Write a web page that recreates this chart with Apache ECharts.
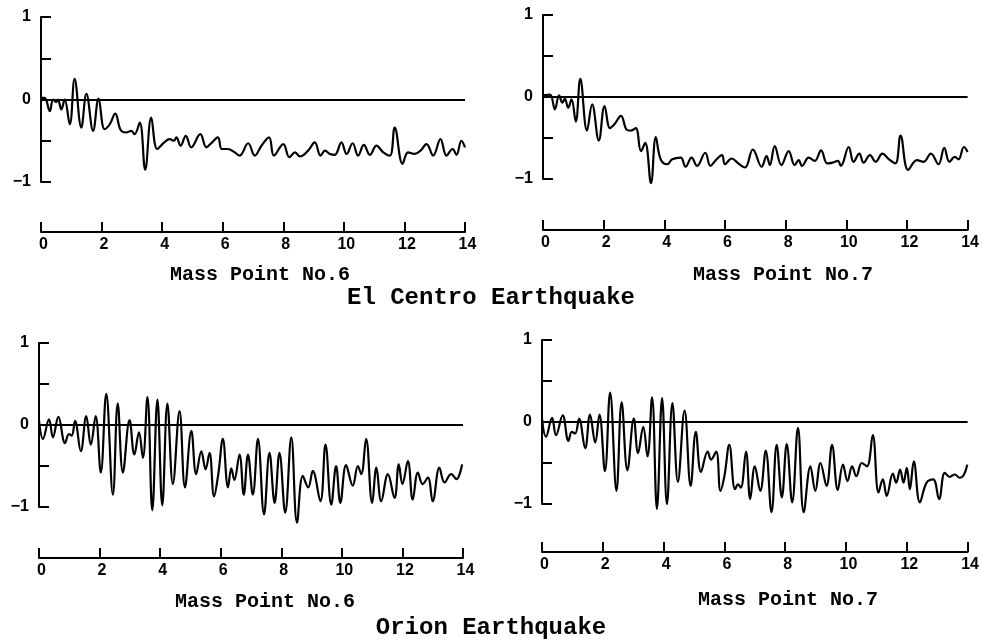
<!DOCTYPE html>
<html>
<head>
<meta charset="utf-8">
<script src="https://cdn.jsdelivr.net/npm/echarts@6/dist/echarts.min.js"></script>
<style>
  html, body {margin: 0; padding: 0; background: #fff;}
  #chart {width: 982px; height: 644px;}
</style>
</head>
<body>
<div id="chart"></div>
<script>
// El Centro, mass point 6
var elc6T = [0, 0.12, 0.29, 0.40, 0.50, 0.56, 0.67, 0.78, 0.95, 1.11, 1.33, 1.50, 1.72, 1.90, 2.10, 2.27, 2.45, 2.63, 2.81, 2.98,
    3.09, 3.26, 3.44, 3.64, 3.84, 4.07, 4.25, 4.39, 4.47, 4.61, 4.78, 4.96, 5.26, 5.46, 5.62, 5.84, 5.97, 6.17, 6.39, 6.56,
    6.84, 7.06, 7.28, 7.53, 7.69, 8.0, 8.2, 8.39, 8.55, 8.82, 9.04, 9.23, 9.38, 9.54, 9.7, 9.92, 10.09, 10.29, 10.47, 10.66,
    10.86, 11.08, 11.3, 11.52, 11.68, 11.94, 12.12, 12.34, 12.53, 12.73, 12.95, 13.19, 13.39, 13.59, 13.72, 13.88, 14.0];
var elc6V = [0.02, 0.02, -0.14, 0.0, -0.03, 0.0, -0.12, 0.0, -0.30, 0.25, -0.34, 0.07, -0.38, 0.01, -0.36, -0.30, -0.17, -0.37, -0.40, -0.38,
    -0.42, -0.28, -0.85, -0.22, -0.60, -0.52, -0.48, -0.50, -0.46, -0.56, -0.44, -0.58, -0.42, -0.58, -0.53, -0.46, -0.60, -0.60, -0.64, -0.68,
    -0.53, -0.68, -0.56, -0.46, -0.68, -0.54, -0.70, -0.64, -0.69, -0.62, -0.52, -0.68, -0.62, -0.66, -0.67, -0.52, -0.66, -0.53, -0.68, -0.55,
    -0.67, -0.56, -0.64, -0.68, -0.34, -0.78, -0.64, -0.66, -0.62, -0.54, -0.68, -0.48, -0.68, -0.60, -0.67, -0.50, -0.58];

// El Centro, mass point 7
var elc7T = [0, 0.23, 0.39, 0.53, 0.64, 0.72, 0.83, 0.94, 1.08, 1.23, 1.45, 1.62, 1.84, 2.03, 2.21, 2.36, 2.57, 2.76, 2.9, 3.06,
    3.23, 3.37, 3.56, 3.72, 3.88, 4.10, 4.26, 4.54, 4.70, 4.90, 5.08, 5.35, 5.52, 5.70, 5.90, 6.0, 6.22, 6.44, 6.66, 6.92,
    7.21, 7.37, 7.48, 7.64, 7.86, 8.10, 8.30, 8.43, 8.54, 8.76, 8.96, 9.17, 9.37, 9.55, 9.72, 9.82, 10.08, 10.24, 10.43, 10.57,
    10.78, 10.97, 11.19, 11.41, 11.62, 11.79, 12.04, 12.33, 12.55, 12.79, 13.04, 13.23, 13.40, 13.58, 13.7, 13.88, 14.0];
var elc7V = [0.02, 0.03, -0.15, 0.02, -0.07, -0.02, -0.13, -0.03, -0.30, 0.22, -0.41, -0.09, -0.53, -0.11, -0.38, -0.33, -0.23, -0.40, -0.41, -0.38,
    -0.66, -0.56, -1.05, -0.49, -0.76, -0.82, -0.76, -0.74, -0.85, -0.74, -0.84, -0.68, -0.84, -0.77, -0.71, -0.82, -0.75, -0.81, -0.86, -0.64,
    -0.85, -0.72, -0.83, -0.60, -0.83, -0.66, -0.83, -0.77, -0.84, -0.74, -0.78, -0.65, -0.81, -0.80, -0.78, -0.84, -0.61, -0.79, -0.69, -0.80,
    -0.71, -0.79, -0.69, -0.76, -0.81, -0.47, -0.89, -0.77, -0.79, -0.69, -0.82, -0.62, -0.79, -0.73, -0.76, -0.61, -0.67];

// Orion, mass point 6
var ori6T = [0, 0.13, 0.33, 0.46, 0.64, 0.86, 0.99, 1.08, 1.19, 1.38, 1.56, 1.71, 1.87, 2.04, 2.22, 2.44, 2.60, 2.77, 2.99, 3.15,
    3.30, 3.43, 3.58, 3.74, 3.91, 4.07, 4.24, 4.42, 4.64, 4.82, 5.03, 5.19, 5.36, 5.50, 5.63, 5.78, 5.92, 6.07, 6.24, 6.35,
    6.45, 6.62, 6.76, 6.90, 7.06, 7.23, 7.43, 7.61, 7.78, 7.94, 8.13, 8.33, 8.52, 8.71, 8.89, 9.04, 9.29, 9.46, 9.65, 9.81,
    9.95, 10.14, 10.36, 10.53, 10.64, 10.80, 11.0, 11.14, 11.30, 11.52, 11.74, 11.88, 12.0, 12.18, 12.34, 12.51, 12.67, 12.84, 13.0, 13.22,
    13.39, 13.61, 13.78, 13.97];
var ori6V = [0.06, -0.17, 0.07, -0.15, 0.10, -0.22, -0.11, -0.13, 0.05, -0.32, 0.11, -0.24, 0.11, -0.58, 0.38, -0.85, 0.26, -0.58, 0.06, -0.36,
    -0.09, -0.40, 0.34, -1.04, 0.31, -0.98, 0.26, -0.72, 0.17, -0.76, -0.07, -0.60, -0.32, -0.54, -0.34, -0.87, -0.60, -0.17, -0.76, -0.53,
    -0.67, -0.36, -0.85, -0.36, -0.85, -0.17, -1.09, -0.34, -0.95, -0.34, -1.07, -0.15, -1.19, -0.62, -0.76, -0.56, -0.93, -0.24, -0.97, -0.50,
    -0.95, -0.49, -0.74, -0.50, -0.60, -0.17, -0.95, -0.52, -0.93, -0.60, -0.89, -0.48, -0.72, -0.44, -0.91, -0.58, -0.72, -0.64, -0.93, -0.52,
    -0.70, -0.60, -0.66, -0.48];

// Orion, mass point 7
var ori7T = [0, 0.13, 0.33, 0.46, 0.68, 0.87, 0.98, 1.09, 1.22, 1.42, 1.58, 1.75, 1.89, 2.07, 2.24, 2.45, 2.62, 2.81, 3.02, 3.16,
    3.33, 3.47, 3.62, 3.78, 3.95, 4.11, 4.29, 4.47, 4.69, 4.89, 5.06, 5.23, 5.45, 5.56, 5.73, 5.87, 6.0, 6.16, 6.35, 6.45,
    6.54, 6.71, 6.85, 7.0, 7.18, 7.36, 7.55, 7.72, 7.89, 8.05, 8.23, 8.42, 8.61, 8.83, 8.99, 9.16, 9.36, 9.54, 9.73, 9.90,
    10.05, 10.20, 10.34, 10.52, 10.69, 10.88, 11.07, 11.21, 11.34, 11.54, 11.65, 11.78, 11.89, 12.0, 12.1, 12.23, 12.43, 12.65, 12.87, 13.06,
    13.25, 13.41, 13.58, 13.74, 13.87, 13.99];
var ori7V = [0.04, -0.18, 0.05, -0.16, 0.08, -0.23, -0.12, -0.14, 0.04, -0.32, 0.09, -0.25, 0.09, -0.60, 0.36, -0.84, 0.24, -0.59, 0.04, -0.38,
    -0.06, -0.42, 0.30, -1.06, 0.29, -1.00, 0.23, -0.73, 0.14, -0.78, -0.12, -0.61, -0.36, -0.46, -0.36, -0.84, -0.66, -0.28, -0.82, -0.76,
    -0.80, -0.36, -0.94, -0.54, -0.84, -0.35, -1.10, -0.28, -0.92, -0.27, -0.98, -0.07, -1.10, -0.54, -0.84, -0.50, -0.78, -0.28, -0.83, -0.52,
    -0.72, -0.54, -0.66, -0.50, -0.54, -0.16, -0.86, -0.70, -0.90, -0.63, -0.74, -0.58, -0.74, -0.56, -0.82, -0.48, -0.98, -0.74, -0.70, -0.94,
    -0.62, -0.67, -0.64, -0.68, -0.65, -0.52];

// tick labels on the response axis (only -1, 0, 1 are printed)
var yTickValues = [-1, -0.5, 0, 0.5, 1];
var yTickLabels = ['\u22121', '', '0', '', '1'];

var panelTitles = ['Mass Point No.6', 'Mass Point No.7', 'Mass Point No.6', 'Mass Point No.7'];
var quakeTitles = ['El Centro Earthquake', 'Orion Earthquake'];

function pairs(t, v) {
    return t.map(function (x, i) { return [x, v[i]]; });
}

var grids = [
    {left: 41, top: 17, width: 424, height: 165},
    {left: 543, top: 15, width: 428, height: 164},
    {left: 39, top: 343, width: 424, height: 164},
    {left: 542, top: 340, width: 428, height: 164}
];
var xOffsets = [50, 51, 51, 48];
var seriesData = [pairs(elc6T, elc6V), pairs(elc7T, elc7V), pairs(ori6T, ori6V), pairs(ori7T, ori7V)];

var axisLineStyle = {color: '#000', width: 2};
var tickFont = {color: '#000', fontFamily: 'Liberation Sans', fontWeight: 'bold', fontSize: 16};

var xAxes = [], yAxes = [], series = [];
for (var i = 0; i < 4; i++) {
    xAxes.push({
        gridIndex: i,
        type: 'value',
        min: 0,
        max: 14,
        interval: 2,
        offset: xOffsets[i],
        axisLine: {show: true, onZero: false, lineStyle: axisLineStyle},
        axisTick: {show: true, inside: true, length: 10, lineStyle: axisLineStyle},
        axisLabel: Object.assign({margin: 5, padding: [0, 0, 0, 5]}, tickFont),
        splitLine: {show: false}
    });
    yAxes.push({
        gridIndex: i,
        type: 'value',
        min: -1,
        max: 1,
        interval: 0.5,
        axisLine: {show: true, onZero: false, lineStyle: axisLineStyle},
        axisTick: {show: true, inside: true, length: 10, lineStyle: axisLineStyle},
        axisLabel: Object.assign({
            margin: 10,
            formatter: function (val) {
                var k = yTickValues.indexOf(Math.round(val * 2) / 2);
                return k < 0 ? '' : yTickLabels[k];
            }
        }, tickFont),
        splitLine: {show: false}
    });
    series.push({
        type: 'line',
        xAxisIndex: i,
        yAxisIndex: i,
        data: seriesData[i],
        smooth: 0.4,
        clip: false,
        showSymbol: false,
        symbol: 'none',
        lineStyle: {color: '#000', width: 2.2},
        markLine: {
            silent: true,
            symbol: 'none',
            label: {show: false},
            lineStyle: {color: '#000', width: 2, type: 'solid'},
            data: [{yAxis: 0}]
        }
    });
}

var titleFont = 'bold 20px "Liberation Mono"';
var quakeFont = 'bold 24px "Liberation Mono"';
var graphics = [
    {type: 'text', x: 260, y: 275, style: {text: panelTitles[0], font: titleFont, fill: '#000', textAlign: 'center', textVerticalAlign: 'middle'}},
    {type: 'text', x: 783, y: 275, style: {text: panelTitles[1], font: titleFont, fill: '#000', textAlign: 'center', textVerticalAlign: 'middle'}},
    {type: 'text', x: 491, y: 298, style: {text: quakeTitles[0], font: quakeFont, fill: '#000', textAlign: 'center', textVerticalAlign: 'middle'}},
    {type: 'text', x: 265, y: 602, style: {text: panelTitles[2], font: titleFont, fill: '#000', textAlign: 'center', textVerticalAlign: 'middle'}},
    {type: 'text', x: 788, y: 600, style: {text: panelTitles[3], font: titleFont, fill: '#000', textAlign: 'center', textVerticalAlign: 'middle'}},
    {type: 'text', x: 491, y: 628, style: {text: quakeTitles[1], font: quakeFont, fill: '#000', textAlign: 'center', textVerticalAlign: 'middle'}}
];

var chart = echarts.init(document.getElementById('chart'));
chart.setOption({
    backgroundColor: '#fff',
    animation: false,
    grid: grids,
    xAxis: xAxes,
    yAxis: yAxes,
    series: series,
    graphic: graphics
});
</script>
</body>
</html>
